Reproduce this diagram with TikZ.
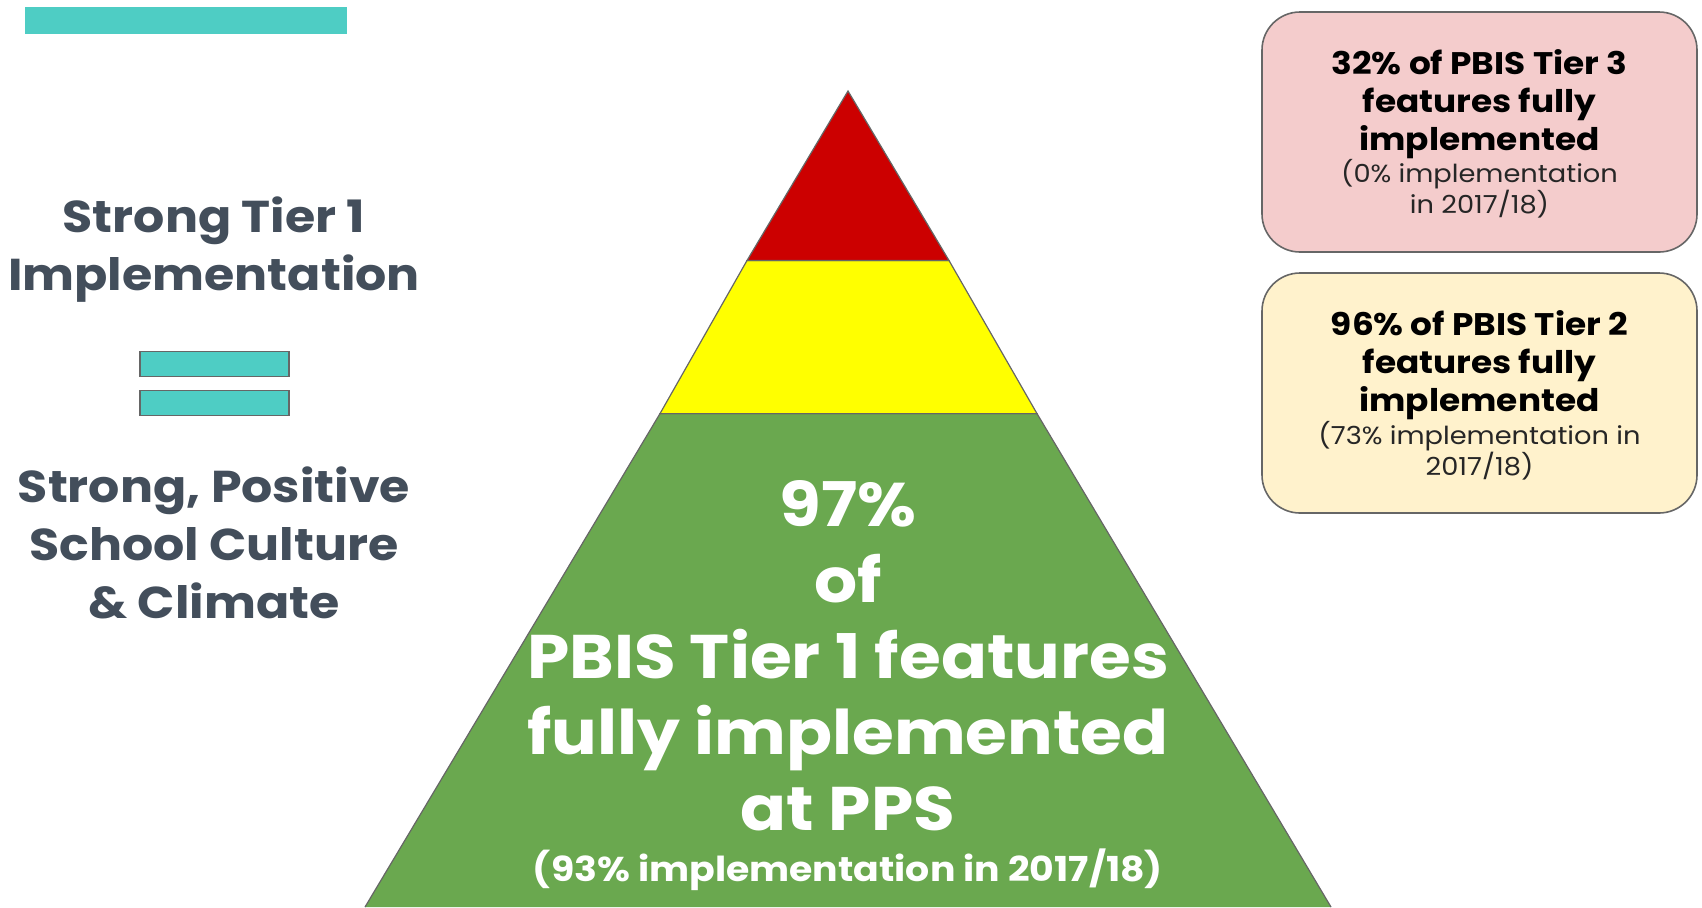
\documentclass[tikz,border=0pt]{standalone}
\usepackage{fontspec}
\setmainfont{Poppins}[FakeStretch=1.1]
\definecolor{barteal}{HTML}{4ECDC4}
\definecolor{slatetext}{HTML}{434E5B}
\definecolor{tierred}{HTML}{CC0000}
\definecolor{tieryellow}{HTML}{FFFF00}
\definecolor{tiergreen}{HTML}{6AA84F}
\definecolor{pinkbox}{HTML}{F4CCCC}
\definecolor{creambox}{HTML}{FFF2CC}
\definecolor{edgegray}{HTML}{666666}
\tikzset{
  lefttext/.style={align=center, text=slatetext, font=\bfseries\fontsize{22.3}{29}\selectfont},
  eqbar/.style={draw=edgegray, line width=0.8pt, fill=barteal, minimum width=74.5pt, minimum height=12.5pt, inner sep=0pt},
  tierfill/.style={draw=edgegray, line width=0.6pt},
  bigtext/.style={align=center, text=white, font=\bfseries\fontsize{30.8}{38}\selectfont},
  smalltext/.style={align=center, text=white, font=\bfseries\fontsize{17.2}{21}\selectfont},
  infobox/.style={draw=edgegray, line width=0.8pt, rounded corners=19pt, minimum width=217.5pt, minimum height=120pt},
  boxhead/.style={align=center, font=\bfseries\fontsize{15.6}{19}\selectfont},
  boxnote/.style={align=center, text=black!85, font=\fontsize{12.4}{15.7}\selectfont}
}
\begin{document}
\begin{tikzpicture}[x=0.5pt, y=-0.5pt]
\useasboundingbox (0,0) rectangle (1702,907);
% top strip
\fill[barteal] (25,6.5) rectangle (347,33.6);
% left side
\node[lefttext] (tierone) at (214,249.5) {Strong Tier 1\\Implementation};
\node[eqbar] (barA) at (214.5,364) {};
\node[eqbar] (barB) at (214.5,403) {};
\node[lefttext] (culture) at (214,543) {Strong, Positive\\School Culture\\\& Climate};
% pyramid
\draw[tierfill, fill=tiergreen] (365,907) -- (660,413.6) -- (1037,413.6) -- (1331,907);
\draw[tierfill, fill=tieryellow] (660,413.6) -- (747,260.5) -- (949,260.5) -- (1037,413.6) -- cycle;
\draw[tierfill, fill=tierred] (747,260.5) -- (848,91) -- (949,260.5) -- cycle;
\node[bigtext] (tieronetext) at (848,656) {97\%\\of\\PBIS Tier 1 features\\fully implemented\\at PPS};
\node[smalltext] (tieronenote) at (848,870) {(93\% implementation in 2017/18)};
% boxes
\node[infobox, fill=pinkbox] (boxthree) at (1479.5,132) {};
\node[boxhead] (threehead) at (1479.5,104.5) {32\% of PBIS Tier 3\\features fully\\implemented};
\node[boxnote] (threenote) at (1479.5,188.5) {(0\% implementation\\in 2017/18)};
\node[infobox, fill=creambox] (boxtwo) at (1479.5,393) {};
\node[boxhead] (twohead) at (1479.5,365) {96\% of PBIS Tier 2\\features fully\\implemented};
\node[boxnote] (twonote) at (1479.5,451) {(73\% implementation in\\2017/18)};
\end{tikzpicture}
\end{document}
